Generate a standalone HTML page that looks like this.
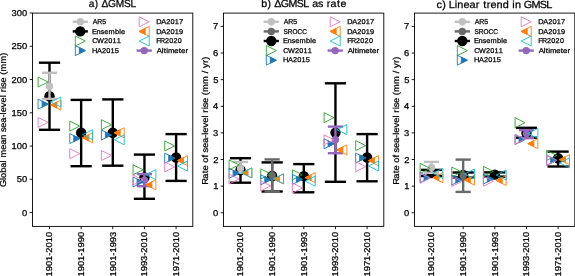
<!DOCTYPE html>
<html><head><meta charset="utf-8"><style>html,body{margin:0;padding:0;background:#fff;overflow:hidden;}svg{display:block;will-change:transform;}</style></head><body>
<svg width="575" height="276" viewBox="0 0 575 276" font-family='"Liberation Sans", sans-serif' text-rendering="geometricPrecision">
<rect x="0" y="0" width="575" height="276" fill="#ffffff"/>
<line x1="49.50" y1="62.70" x2="49.50" y2="129.80" stroke="#000000" stroke-width="2.4"/>
<line x1="38.90" y1="62.70" x2="60.10" y2="62.70" stroke="#000000" stroke-width="2.4"/>
<line x1="38.90" y1="129.80" x2="60.10" y2="129.80" stroke="#000000" stroke-width="2.4"/>
<circle cx="49.50" cy="96.30" r="5.2" fill="#000000"/>
<line x1="49.50" y1="72.80" x2="49.50" y2="98.90" stroke="#c0c0c0" stroke-width="2.4"/>
<line x1="41.90" y1="72.80" x2="57.10" y2="72.80" stroke="#c0c0c0" stroke-width="2.4"/>
<line x1="41.90" y1="98.90" x2="57.10" y2="98.90" stroke="#c0c0c0" stroke-width="2.4"/>
<circle cx="49.50" cy="86.20" r="3.7" fill="#c0c0c0"/>
<polygon points="48.10,82.00 38.10,77.00 38.10,87.00" fill="none" stroke="#2ca02c" stroke-width="0.90" stroke-linejoin="miter"/>
<polygon points="48.10,104.10 42.10,101.10 42.10,107.10" fill="#1f77b4" stroke="#1f77b4" stroke-width="0.90" stroke-linejoin="miter"/>
<polygon points="48.10,104.10 38.10,99.10 38.10,109.10" fill="none" stroke="#1f77b4" stroke-width="0.90" stroke-linejoin="miter"/>
<polygon points="48.10,122.40 38.10,117.40 38.10,127.40" fill="none" stroke="#e377c2" stroke-width="0.90" stroke-linejoin="miter"/>
<polygon points="50.90,105.00 56.90,102.00 56.90,108.00" fill="#ff7f0e" stroke="#ff7f0e" stroke-width="0.90" stroke-linejoin="miter"/>
<polygon points="50.90,105.00 60.90,100.00 60.90,110.00" fill="none" stroke="#ff7f0e" stroke-width="0.90" stroke-linejoin="miter"/>
<polygon points="50.90,102.00 60.90,97.00 60.90,107.00" fill="none" stroke="#17becf" stroke-width="0.90" stroke-linejoin="miter"/>
<line x1="81.15" y1="99.90" x2="81.15" y2="166.20" stroke="#000000" stroke-width="2.4"/>
<line x1="70.55" y1="99.90" x2="91.75" y2="99.90" stroke="#000000" stroke-width="2.4"/>
<line x1="70.55" y1="166.20" x2="91.75" y2="166.20" stroke="#000000" stroke-width="2.4"/>
<circle cx="81.15" cy="132.70" r="5.2" fill="#000000"/>
<polygon points="79.75,126.10 69.75,121.10 69.75,131.10" fill="none" stroke="#2ca02c" stroke-width="0.90" stroke-linejoin="miter"/>
<polygon points="79.75,138.60 73.75,135.60 73.75,141.60" fill="#1f77b4" stroke="#1f77b4" stroke-width="0.90" stroke-linejoin="miter"/>
<polygon points="79.75,138.60 69.75,133.60 69.75,143.60" fill="none" stroke="#1f77b4" stroke-width="0.90" stroke-linejoin="miter"/>
<polygon points="79.75,153.70 69.75,148.70 69.75,158.70" fill="none" stroke="#e377c2" stroke-width="0.90" stroke-linejoin="miter"/>
<polygon points="82.55,137.80 88.55,134.80 88.55,140.80" fill="#ff7f0e" stroke="#ff7f0e" stroke-width="0.90" stroke-linejoin="miter"/>
<polygon points="82.55,137.80 92.55,132.80 92.55,142.80" fill="none" stroke="#ff7f0e" stroke-width="0.90" stroke-linejoin="miter"/>
<polygon points="82.55,134.70 92.55,129.70 92.55,139.70" fill="none" stroke="#17becf" stroke-width="0.90" stroke-linejoin="miter"/>
<line x1="112.80" y1="99.40" x2="112.80" y2="165.70" stroke="#000000" stroke-width="2.4"/>
<line x1="102.20" y1="99.40" x2="123.40" y2="99.40" stroke="#000000" stroke-width="2.4"/>
<line x1="102.20" y1="165.70" x2="123.40" y2="165.70" stroke="#000000" stroke-width="2.4"/>
<circle cx="112.80" cy="132.70" r="5.2" fill="#000000"/>
<polygon points="111.40,124.70 101.40,119.70 101.40,129.70" fill="none" stroke="#2ca02c" stroke-width="0.90" stroke-linejoin="miter"/>
<polygon points="111.40,135.00 105.40,132.00 105.40,138.00" fill="#1f77b4" stroke="#1f77b4" stroke-width="0.90" stroke-linejoin="miter"/>
<polygon points="111.40,135.00 101.40,130.00 101.40,140.00" fill="none" stroke="#1f77b4" stroke-width="0.90" stroke-linejoin="miter"/>
<polygon points="111.40,155.50 101.40,150.50 101.40,160.50" fill="none" stroke="#e377c2" stroke-width="0.90" stroke-linejoin="miter"/>
<polygon points="114.20,132.80 120.20,129.80 120.20,135.80" fill="#ff7f0e" stroke="#ff7f0e" stroke-width="0.90" stroke-linejoin="miter"/>
<polygon points="114.20,132.80 124.20,127.80 124.20,137.80" fill="none" stroke="#ff7f0e" stroke-width="0.90" stroke-linejoin="miter"/>
<polygon points="114.20,139.80 124.20,134.80 124.20,144.80" fill="none" stroke="#17becf" stroke-width="0.90" stroke-linejoin="miter"/>
<line x1="144.45" y1="154.60" x2="144.45" y2="198.80" stroke="#000000" stroke-width="2.4"/>
<line x1="133.85" y1="154.60" x2="155.05" y2="154.60" stroke="#000000" stroke-width="2.4"/>
<line x1="133.85" y1="198.80" x2="155.05" y2="198.80" stroke="#000000" stroke-width="2.4"/>
<circle cx="144.45" cy="177.50" r="5.2" fill="#000000"/>
<line x1="144.45" y1="174.10" x2="144.45" y2="186.20" stroke="#9467bd" stroke-width="2.4"/>
<line x1="136.85" y1="174.10" x2="152.05" y2="174.10" stroke="#9467bd" stroke-width="2.4"/>
<line x1="136.85" y1="186.20" x2="152.05" y2="186.20" stroke="#9467bd" stroke-width="2.4"/>
<circle cx="144.45" cy="180.20" r="3.7" fill="#9467bd"/>
<polygon points="143.05,169.80 133.05,164.80 133.05,174.80" fill="none" stroke="#2ca02c" stroke-width="0.90" stroke-linejoin="miter"/>
<polygon points="143.05,182.00 137.05,179.00 137.05,185.00" fill="#1f77b4" stroke="#1f77b4" stroke-width="0.90" stroke-linejoin="miter"/>
<polygon points="143.05,182.00 133.05,177.00 133.05,187.00" fill="none" stroke="#1f77b4" stroke-width="0.90" stroke-linejoin="miter"/>
<polygon points="143.05,180.00 133.05,175.00 133.05,185.00" fill="none" stroke="#e377c2" stroke-width="0.90" stroke-linejoin="miter"/>
<polygon points="145.85,184.80 151.85,181.80 151.85,187.80" fill="#ff7f0e" stroke="#ff7f0e" stroke-width="0.90" stroke-linejoin="miter"/>
<polygon points="145.85,184.80 155.85,179.80 155.85,189.80" fill="none" stroke="#ff7f0e" stroke-width="0.90" stroke-linejoin="miter"/>
<polygon points="145.85,174.60 155.85,169.60 155.85,179.60" fill="none" stroke="#17becf" stroke-width="0.90" stroke-linejoin="miter"/>
<line x1="176.10" y1="134.10" x2="176.10" y2="180.90" stroke="#000000" stroke-width="2.4"/>
<line x1="165.50" y1="134.10" x2="186.70" y2="134.10" stroke="#000000" stroke-width="2.4"/>
<line x1="165.50" y1="180.90" x2="186.70" y2="180.90" stroke="#000000" stroke-width="2.4"/>
<circle cx="176.10" cy="157.50" r="5.2" fill="#000000"/>
<polygon points="174.70,145.90 164.70,140.90 164.70,150.90" fill="none" stroke="#2ca02c" stroke-width="0.90" stroke-linejoin="miter"/>
<polygon points="174.70,158.20 168.70,155.20 168.70,161.20" fill="#1f77b4" stroke="#1f77b4" stroke-width="0.90" stroke-linejoin="miter"/>
<polygon points="174.70,158.20 164.70,153.20 164.70,163.20" fill="none" stroke="#1f77b4" stroke-width="0.90" stroke-linejoin="miter"/>
<polygon points="174.70,166.90 164.70,161.90 164.70,171.90" fill="none" stroke="#e377c2" stroke-width="0.90" stroke-linejoin="miter"/>
<polygon points="177.50,160.60 183.50,157.60 183.50,163.60" fill="#ff7f0e" stroke="#ff7f0e" stroke-width="0.90" stroke-linejoin="miter"/>
<polygon points="177.50,160.60 187.50,155.60 187.50,165.60" fill="none" stroke="#ff7f0e" stroke-width="0.90" stroke-linejoin="miter"/>
<polygon points="177.50,166.00 187.50,161.00 187.50,171.00" fill="none" stroke="#17becf" stroke-width="0.90" stroke-linejoin="miter"/>
<rect x="32.50" y="13.10" width="160.30" height="213.30" fill="none" stroke="#000" stroke-width="0.9"/>
<line x1="49.50" y1="226.40" x2="49.50" y2="229.20" stroke="#000" stroke-width="0.9"/>
<text transform="translate(52.24 0) rotate(-90) scale(1.0907 1)" x="-253.55 -248.76 -243.98 -239.20 -234.49 -231.70 -226.92 -222.13 -217.35" y="0" font-size="8.57" fill="#000" stroke="#000" stroke-width="0.25">1901-2010</text>
<line x1="81.15" y1="226.40" x2="81.15" y2="229.20" stroke="#000" stroke-width="0.9"/>
<text transform="translate(83.89 0) rotate(-90) scale(1.0907 1)" x="-253.55 -248.76 -243.98 -239.20 -234.49 -231.70 -226.92 -222.13 -217.35" y="0" font-size="8.57" fill="#000" stroke="#000" stroke-width="0.25">1901-1990</text>
<line x1="112.80" y1="226.40" x2="112.80" y2="229.20" stroke="#000" stroke-width="0.9"/>
<text transform="translate(115.54 0) rotate(-90) scale(1.0907 1)" x="-253.44 -248.66 -243.88 -239.09 -234.39 -231.60 -226.81 -222.03 -217.25" y="0" font-size="8.57" fill="#000" stroke="#000" stroke-width="0.25">1901-1993</text>
<line x1="144.45" y1="226.40" x2="144.45" y2="229.20" stroke="#000" stroke-width="0.9"/>
<text transform="translate(147.19 0) rotate(-90) scale(1.0907 1)" x="-253.55 -248.76 -243.98 -239.20 -234.49 -231.70 -226.92 -222.13 -217.35" y="0" font-size="8.57" fill="#000" stroke="#000" stroke-width="0.25">1993-2010</text>
<line x1="176.10" y1="226.40" x2="176.10" y2="229.20" stroke="#000" stroke-width="0.9"/>
<text transform="translate(178.84 0) rotate(-90) scale(1.0907 1)" x="-253.55 -248.76 -243.98 -239.20 -234.49 -231.70 -226.92 -222.13 -217.35" y="0" font-size="8.57" fill="#000" stroke="#000" stroke-width="0.25">1971-2010</text>
<line x1="29.70" y1="212.60" x2="32.50" y2="212.60" stroke="#000" stroke-width="0.9"/>
<text transform="translate(0 215.60) scale(1.0947 1)" x="20.08" y="0" font-size="8.57" fill="#000" stroke="#000" stroke-width="0.25">0</text>
<line x1="29.70" y1="179.33" x2="32.50" y2="179.33" stroke="#000" stroke-width="0.9"/>
<text transform="translate(0 182.33) scale(1.0947 1)" x="15.31 20.08" y="0" font-size="8.57" fill="#000" stroke="#000" stroke-width="0.25">50</text>
<line x1="29.70" y1="146.07" x2="32.50" y2="146.07" stroke="#000" stroke-width="0.9"/>
<text transform="translate(0 149.07) scale(1.0947 1)" x="10.54 15.31 20.08" y="0" font-size="8.57" fill="#000" stroke="#000" stroke-width="0.25">100</text>
<line x1="29.70" y1="112.80" x2="32.50" y2="112.80" stroke="#000" stroke-width="0.9"/>
<text transform="translate(0 115.80) scale(1.0947 1)" x="10.54 15.31 20.08" y="0" font-size="8.57" fill="#000" stroke="#000" stroke-width="0.25">150</text>
<line x1="29.70" y1="79.54" x2="32.50" y2="79.54" stroke="#000" stroke-width="0.9"/>
<text transform="translate(0 82.54) scale(1.0947 1)" x="10.54 15.31 20.08" y="0" font-size="8.57" fill="#000" stroke="#000" stroke-width="0.25">200</text>
<line x1="29.70" y1="46.28" x2="32.50" y2="46.28" stroke="#000" stroke-width="0.9"/>
<text transform="translate(0 49.28) scale(1.0947 1)" x="10.54 15.31 20.08" y="0" font-size="8.57" fill="#000" stroke="#000" stroke-width="0.25">250</text>
<line x1="29.70" y1="13.01" x2="32.50" y2="13.01" stroke="#000" stroke-width="0.9"/>
<text transform="translate(0 16.01) scale(1.0947 1)" x="10.54 15.31 20.08" y="0" font-size="8.57" fill="#000" stroke="#000" stroke-width="0.25">300</text>
<text transform="translate(0 7.25) scale(0.9909 1)" x="89.47 95.60 99.41 102.38 109.07 116.92 125.22 131.71" y="0" font-size="10.29" fill="#000" stroke="#000" stroke-width="0.25">a) ΔGMSL</text>
<text transform="translate(5.90 0) rotate(-90) scale(1.0821 1)" x="-172.76 -166.39 -164.45 -159.73 -155.00 -150.19 -148.18 -145.66 -138.45 -133.80 -129.08 -124.28 -122.05 -117.99 -113.33 -108.69 -105.79 -103.84 -99.03 -94.69 -89.88 -87.86 -85.34 -82.25 -80.41 -76.35 -71.62 -69.18 -66.15 -58.77 -51.46" y="0" font-size="8.57" fill="#000" stroke="#000" stroke-width="0.25">Global mean sea-level rise (mm)</text>
<line x1="72.70" y1="21.80" x2="87.90" y2="21.80" stroke="#c0c0c0" stroke-width="2.4"/>
<circle cx="80.30" cy="21.80" r="3.7" fill="#c0c0c0"/>
<text transform="translate(0 24.00) scale(0.9913 1)" x="93.64 98.11 103.19" y="0" font-size="7.00" fill="#000" stroke="#000" stroke-width="0.25">AR5</text>
<line x1="72.70" y1="31.40" x2="87.90" y2="31.40" stroke="#000000" stroke-width="2.4"/>
<circle cx="80.30" cy="31.40" r="5.2" fill="#000000"/>
<text transform="translate(0 33.60) scale(1.0553 1)" x="87.08 91.49 95.35 98.76 102.84 108.91 112.98 114.64" y="0" font-size="7.00" fill="#000" stroke="#000" stroke-width="0.25">Ensemble</text>
<polygon points="85.30,41.00 75.30,36.00 75.30,46.00" fill="none" stroke="#2ca02c" stroke-width="0.90" stroke-linejoin="miter"/>
<text transform="translate(0 43.20) scale(1.0409 1)" x="88.61 93.26 99.85 103.94 108.04 112.14" y="0" font-size="7.00" fill="#000" stroke="#000" stroke-width="0.25">CW2011</text>
<polygon points="85.30,50.60 79.30,47.60 79.30,53.60" fill="#1f77b4" stroke="#1f77b4" stroke-width="0.90" stroke-linejoin="miter"/>
<polygon points="85.30,50.60 75.30,45.60 75.30,55.60" fill="none" stroke="#1f77b4" stroke-width="0.90" stroke-linejoin="miter"/>
<text transform="translate(0 52.80) scale(1.0542 1)" x="87.36 92.12 96.70 100.75 104.79 108.84" y="0" font-size="7.00" fill="#000" stroke="#000" stroke-width="0.25">HA2015</text>
<polygon points="149.20,21.80 139.20,16.80 139.20,26.80" fill="none" stroke="#e377c2" stroke-width="0.90" stroke-linejoin="miter"/>
<text transform="translate(0 24.00) scale(1.0590 1)" x="147.64 152.32 156.89 160.91 164.94 168.96" y="0" font-size="7.00" fill="#000" stroke="#000" stroke-width="0.25">DA2017</text>
<polygon points="139.20,31.40 145.20,28.40 145.20,34.40" fill="#ff7f0e" stroke="#ff7f0e" stroke-width="0.90" stroke-linejoin="miter"/>
<polygon points="139.20,31.40 149.20,26.40 149.20,36.40" fill="none" stroke="#ff7f0e" stroke-width="0.90" stroke-linejoin="miter"/>
<text transform="translate(0 33.60) scale(1.0590 1)" x="147.64 152.32 156.89 160.91 164.94 168.96" y="0" font-size="7.00" fill="#000" stroke="#000" stroke-width="0.25">DA2019</text>
<polygon points="139.20,41.00 149.20,36.00 149.20,46.00" fill="none" stroke="#17becf" stroke-width="0.90" stroke-linejoin="miter"/>
<text transform="translate(0 43.20) scale(1.0262 1)" x="152.19 155.95 160.88 165.03 169.19 173.34" y="0" font-size="7.00" fill="#000" stroke="#000" stroke-width="0.25">FR2020</text>
<line x1="136.60" y1="50.60" x2="151.80" y2="50.60" stroke="#9467bd" stroke-width="2.4"/>
<circle cx="144.20" cy="50.60" r="3.7" fill="#9467bd"/>
<text transform="translate(0 52.80) scale(1.1253 1)" x="139.26 143.68 145.48 147.67 149.25 154.95 158.93 160.95 164.79" y="0" font-size="7.00" fill="#000" stroke="#000" stroke-width="0.25">Altimeter</text>
<line x1="240.50" y1="158.20" x2="240.50" y2="182.70" stroke="#000000" stroke-width="2.4"/>
<line x1="229.90" y1="158.20" x2="251.10" y2="158.20" stroke="#000000" stroke-width="2.4"/>
<line x1="229.90" y1="182.70" x2="251.10" y2="182.70" stroke="#000000" stroke-width="2.4"/>
<circle cx="240.50" cy="170.00" r="5.2" fill="#000000"/>
<line x1="240.50" y1="162.00" x2="240.50" y2="172.80" stroke="#c0c0c0" stroke-width="2.4"/>
<line x1="232.90" y1="162.00" x2="248.10" y2="162.00" stroke="#c0c0c0" stroke-width="2.4"/>
<line x1="232.90" y1="172.80" x2="248.10" y2="172.80" stroke="#c0c0c0" stroke-width="2.4"/>
<circle cx="240.50" cy="168.50" r="3.7" fill="#c0c0c0"/>
<polygon points="239.10,164.90 229.10,159.90 229.10,169.90" fill="none" stroke="#2ca02c" stroke-width="0.90" stroke-linejoin="miter"/>
<polygon points="239.10,173.30 233.10,170.30 233.10,176.30" fill="#1f77b4" stroke="#1f77b4" stroke-width="0.90" stroke-linejoin="miter"/>
<polygon points="239.10,173.30 229.10,168.30 229.10,178.30" fill="none" stroke="#1f77b4" stroke-width="0.90" stroke-linejoin="miter"/>
<polygon points="239.10,179.00 229.10,174.00 229.10,184.00" fill="none" stroke="#e377c2" stroke-width="0.90" stroke-linejoin="miter"/>
<polygon points="241.90,172.90 247.90,169.90 247.90,175.90" fill="#ff7f0e" stroke="#ff7f0e" stroke-width="0.90" stroke-linejoin="miter"/>
<polygon points="241.90,172.90 251.90,167.90 251.90,177.90" fill="none" stroke="#ff7f0e" stroke-width="0.90" stroke-linejoin="miter"/>
<polygon points="241.90,172.90 251.90,167.90 251.90,177.90" fill="none" stroke="#17becf" stroke-width="0.90" stroke-linejoin="miter"/>
<line x1="272.15" y1="162.40" x2="272.15" y2="191.50" stroke="#000000" stroke-width="2.4"/>
<line x1="261.55" y1="162.40" x2="282.75" y2="162.40" stroke="#000000" stroke-width="2.4"/>
<line x1="261.55" y1="191.50" x2="282.75" y2="191.50" stroke="#000000" stroke-width="2.4"/>
<circle cx="272.15" cy="176.00" r="5.2" fill="#000000"/>
<line x1="272.15" y1="159.40" x2="272.15" y2="191.70" stroke="#696969" stroke-width="2.4"/>
<line x1="264.55" y1="159.40" x2="279.75" y2="159.40" stroke="#696969" stroke-width="2.4"/>
<line x1="264.55" y1="191.70" x2="279.75" y2="191.70" stroke="#696969" stroke-width="2.4"/>
<circle cx="272.15" cy="175.40" r="3.7" fill="#696969"/>
<polygon points="270.75,173.90 260.75,168.90 260.75,178.90" fill="none" stroke="#2ca02c" stroke-width="0.90" stroke-linejoin="miter"/>
<polygon points="270.75,179.80 264.75,176.80 264.75,182.80" fill="#1f77b4" stroke="#1f77b4" stroke-width="0.90" stroke-linejoin="miter"/>
<polygon points="270.75,179.80 260.75,174.80 260.75,184.80" fill="none" stroke="#1f77b4" stroke-width="0.90" stroke-linejoin="miter"/>
<polygon points="270.75,185.90 260.75,180.90 260.75,190.90" fill="none" stroke="#e377c2" stroke-width="0.90" stroke-linejoin="miter"/>
<polygon points="273.55,179.00 279.55,176.00 279.55,182.00" fill="#ff7f0e" stroke="#ff7f0e" stroke-width="0.90" stroke-linejoin="miter"/>
<polygon points="273.55,179.00 283.55,174.00 283.55,184.00" fill="none" stroke="#ff7f0e" stroke-width="0.90" stroke-linejoin="miter"/>
<polygon points="273.55,178.70 283.55,173.70 283.55,183.70" fill="none" stroke="#17becf" stroke-width="0.90" stroke-linejoin="miter"/>
<line x1="303.80" y1="164.10" x2="303.80" y2="192.30" stroke="#000000" stroke-width="2.4"/>
<line x1="293.20" y1="164.10" x2="314.40" y2="164.10" stroke="#000000" stroke-width="2.4"/>
<line x1="293.20" y1="192.30" x2="314.40" y2="192.30" stroke="#000000" stroke-width="2.4"/>
<circle cx="303.80" cy="176.10" r="5.2" fill="#000000"/>
<polygon points="302.40,174.80 292.40,169.80 292.40,179.80" fill="none" stroke="#2ca02c" stroke-width="0.90" stroke-linejoin="miter"/>
<polygon points="302.40,179.40 296.40,176.40 296.40,182.40" fill="#1f77b4" stroke="#1f77b4" stroke-width="0.90" stroke-linejoin="miter"/>
<polygon points="302.40,179.40 292.40,174.40 292.40,184.40" fill="none" stroke="#1f77b4" stroke-width="0.90" stroke-linejoin="miter"/>
<polygon points="302.40,188.00 292.40,183.00 292.40,193.00" fill="none" stroke="#e377c2" stroke-width="0.90" stroke-linejoin="miter"/>
<polygon points="305.20,177.70 311.20,174.70 311.20,180.70" fill="#ff7f0e" stroke="#ff7f0e" stroke-width="0.90" stroke-linejoin="miter"/>
<polygon points="305.20,177.70 315.20,172.70 315.20,182.70" fill="none" stroke="#ff7f0e" stroke-width="0.90" stroke-linejoin="miter"/>
<polygon points="305.20,181.20 315.20,176.20 315.20,186.20" fill="none" stroke="#17becf" stroke-width="0.90" stroke-linejoin="miter"/>
<line x1="335.45" y1="83.30" x2="335.45" y2="181.80" stroke="#000000" stroke-width="2.4"/>
<line x1="324.85" y1="83.30" x2="346.05" y2="83.30" stroke="#000000" stroke-width="2.4"/>
<line x1="324.85" y1="181.80" x2="346.05" y2="181.80" stroke="#000000" stroke-width="2.4"/>
<circle cx="335.45" cy="132.60" r="5.2" fill="#000000"/>
<line x1="335.45" y1="126.60" x2="335.45" y2="153.20" stroke="#9467bd" stroke-width="2.4"/>
<line x1="327.85" y1="126.60" x2="343.05" y2="126.60" stroke="#9467bd" stroke-width="2.4"/>
<line x1="327.85" y1="153.20" x2="343.05" y2="153.20" stroke="#9467bd" stroke-width="2.4"/>
<circle cx="335.45" cy="139.70" r="3.7" fill="#9467bd"/>
<polygon points="334.05,117.60 324.05,112.60 324.05,122.60" fill="none" stroke="#2ca02c" stroke-width="0.90" stroke-linejoin="miter"/>
<polygon points="334.05,143.80 328.05,140.80 328.05,146.80" fill="#1f77b4" stroke="#1f77b4" stroke-width="0.90" stroke-linejoin="miter"/>
<polygon points="334.05,143.80 324.05,138.80 324.05,148.80" fill="none" stroke="#1f77b4" stroke-width="0.90" stroke-linejoin="miter"/>
<polygon points="334.05,139.80 324.05,134.80 324.05,144.80" fill="none" stroke="#e377c2" stroke-width="0.90" stroke-linejoin="miter"/>
<polygon points="336.85,149.90 342.85,146.90 342.85,152.90" fill="#ff7f0e" stroke="#ff7f0e" stroke-width="0.90" stroke-linejoin="miter"/>
<polygon points="336.85,149.90 346.85,144.90 346.85,154.90" fill="none" stroke="#ff7f0e" stroke-width="0.90" stroke-linejoin="miter"/>
<polygon points="336.85,129.60 346.85,124.60 346.85,134.60" fill="none" stroke="#17becf" stroke-width="0.90" stroke-linejoin="miter"/>
<line x1="367.10" y1="134.10" x2="367.10" y2="181.30" stroke="#000000" stroke-width="2.4"/>
<line x1="356.50" y1="134.10" x2="377.70" y2="134.10" stroke="#000000" stroke-width="2.4"/>
<line x1="356.50" y1="181.30" x2="377.70" y2="181.30" stroke="#000000" stroke-width="2.4"/>
<circle cx="367.10" cy="157.50" r="5.2" fill="#000000"/>
<polygon points="365.70,145.60 355.70,140.60 355.70,150.60" fill="none" stroke="#2ca02c" stroke-width="0.90" stroke-linejoin="miter"/>
<polygon points="365.70,158.00 359.70,155.00 359.70,161.00" fill="#1f77b4" stroke="#1f77b4" stroke-width="0.90" stroke-linejoin="miter"/>
<polygon points="365.70,158.00 355.70,153.00 355.70,163.00" fill="none" stroke="#1f77b4" stroke-width="0.90" stroke-linejoin="miter"/>
<polygon points="365.70,166.70 355.70,161.70 355.70,171.70" fill="none" stroke="#e377c2" stroke-width="0.90" stroke-linejoin="miter"/>
<polygon points="368.50,160.60 374.50,157.60 374.50,163.60" fill="#ff7f0e" stroke="#ff7f0e" stroke-width="0.90" stroke-linejoin="miter"/>
<polygon points="368.50,160.60 378.50,155.60 378.50,165.60" fill="none" stroke="#ff7f0e" stroke-width="0.90" stroke-linejoin="miter"/>
<polygon points="368.50,166.00 378.50,161.00 378.50,171.00" fill="none" stroke="#17becf" stroke-width="0.90" stroke-linejoin="miter"/>
<rect x="223.50" y="13.10" width="160.30" height="213.30" fill="none" stroke="#000" stroke-width="0.9"/>
<line x1="240.50" y1="226.40" x2="240.50" y2="229.20" stroke="#000" stroke-width="0.9"/>
<text transform="translate(243.24 0) rotate(-90) scale(1.0907 1)" x="-253.55 -248.76 -243.98 -239.20 -234.49 -231.70 -226.92 -222.13 -217.35" y="0" font-size="8.57" fill="#000" stroke="#000" stroke-width="0.25">1901-2010</text>
<line x1="272.15" y1="226.40" x2="272.15" y2="229.20" stroke="#000" stroke-width="0.9"/>
<text transform="translate(274.89 0) rotate(-90) scale(1.0907 1)" x="-253.55 -248.76 -243.98 -239.20 -234.49 -231.70 -226.92 -222.13 -217.35" y="0" font-size="8.57" fill="#000" stroke="#000" stroke-width="0.25">1901-1990</text>
<line x1="303.80" y1="226.40" x2="303.80" y2="229.20" stroke="#000" stroke-width="0.9"/>
<text transform="translate(306.54 0) rotate(-90) scale(1.0907 1)" x="-253.44 -248.66 -243.88 -239.09 -234.39 -231.60 -226.81 -222.03 -217.25" y="0" font-size="8.57" fill="#000" stroke="#000" stroke-width="0.25">1901-1993</text>
<line x1="335.45" y1="226.40" x2="335.45" y2="229.20" stroke="#000" stroke-width="0.9"/>
<text transform="translate(338.19 0) rotate(-90) scale(1.0907 1)" x="-253.55 -248.76 -243.98 -239.20 -234.49 -231.70 -226.92 -222.13 -217.35" y="0" font-size="8.57" fill="#000" stroke="#000" stroke-width="0.25">1993-2010</text>
<line x1="367.10" y1="226.40" x2="367.10" y2="229.20" stroke="#000" stroke-width="0.9"/>
<text transform="translate(369.84 0) rotate(-90) scale(1.0907 1)" x="-253.55 -248.76 -243.98 -239.20 -234.49 -231.70 -226.92 -222.13 -217.35" y="0" font-size="8.57" fill="#000" stroke="#000" stroke-width="0.25">1971-2010</text>
<line x1="220.70" y1="212.75" x2="223.50" y2="212.75" stroke="#000" stroke-width="0.9"/>
<text transform="translate(0 215.75) scale(1.0947 1)" x="194.55" y="0" font-size="8.57" fill="#000" stroke="#000" stroke-width="0.25">0</text>
<line x1="220.70" y1="186.13" x2="223.50" y2="186.13" stroke="#000" stroke-width="0.9"/>
<text transform="translate(0 189.13) scale(1.0947 1)" x="194.74" y="0" font-size="8.57" fill="#000" stroke="#000" stroke-width="0.25">1</text>
<line x1="220.70" y1="159.51" x2="223.50" y2="159.51" stroke="#000" stroke-width="0.9"/>
<text transform="translate(0 162.51) scale(1.0947 1)" x="194.80" y="0" font-size="8.57" fill="#000" stroke="#000" stroke-width="0.25">2</text>
<line x1="220.70" y1="132.89" x2="223.50" y2="132.89" stroke="#000" stroke-width="0.9"/>
<text transform="translate(0 135.89) scale(1.0947 1)" x="194.65" y="0" font-size="8.57" fill="#000" stroke="#000" stroke-width="0.25">3</text>
<line x1="220.70" y1="106.27" x2="223.50" y2="106.27" stroke="#000" stroke-width="0.9"/>
<text transform="translate(0 109.27) scale(1.0947 1)" x="194.47" y="0" font-size="8.57" fill="#000" stroke="#000" stroke-width="0.25">4</text>
<line x1="220.70" y1="79.65" x2="223.50" y2="79.65" stroke="#000" stroke-width="0.9"/>
<text transform="translate(0 82.65) scale(1.0947 1)" x="194.71" y="0" font-size="8.57" fill="#000" stroke="#000" stroke-width="0.25">5</text>
<line x1="220.70" y1="53.03" x2="223.50" y2="53.03" stroke="#000" stroke-width="0.9"/>
<text transform="translate(0 56.03) scale(1.0947 1)" x="194.52" y="0" font-size="8.57" fill="#000" stroke="#000" stroke-width="0.25">6</text>
<line x1="220.70" y1="26.41" x2="223.50" y2="26.41" stroke="#000" stroke-width="0.9"/>
<text transform="translate(0 29.41) scale(1.0947 1)" x="194.69" y="0" font-size="8.57" fill="#000" stroke="#000" stroke-width="0.25">7</text>
<text transform="translate(0 7.25) scale(1.0350 1)" x="252.49 258.52 262.17 264.93 271.31 278.82 286.80 293.04 298.63 301.63 307.31 312.45 315.63 319.36 325.57 328.93" y="0" font-size="10.29" fill="#000" stroke="#000" stroke-width="0.25">b) ΔGMSL as rate</text>
<text transform="translate(207.90 0) rotate(-90) scale(1.0898 1)" x="-169.44 -163.98 -159.01 -156.41 -151.71 -149.40 -144.58 -142.06 -139.86 -135.82 -131.20 -126.58 -123.71 -121.78 -117.00 -112.70 -107.91 -105.90 -103.40 -100.33 -98.51 -94.48 -89.78 -87.35 -84.36 -77.03 -69.79 -67.33 -64.86 -62.39 -57.91 -54.89" y="0" font-size="8.57" fill="#000" stroke="#000" stroke-width="0.25">Rate of sea-level rise (mm / yr)</text>
<line x1="263.70" y1="21.80" x2="278.90" y2="21.80" stroke="#c0c0c0" stroke-width="2.4"/>
<circle cx="271.30" cy="21.80" r="3.7" fill="#c0c0c0"/>
<text transform="translate(0 24.00) scale(0.9913 1)" x="286.32 290.79 295.87" y="0" font-size="7.00" fill="#000" stroke="#000" stroke-width="0.25">AR5</text>
<line x1="263.70" y1="31.40" x2="278.90" y2="31.40" stroke="#696969" stroke-width="2.4"/>
<circle cx="271.30" cy="31.40" r="3.7" fill="#696969"/>
<text transform="translate(0 33.60) scale(0.9309 1)" x="304.44 309.03 314.17 319.71 324.73" y="0" font-size="7.00" fill="#000" stroke="#000" stroke-width="0.25">SROCC</text>
<line x1="263.70" y1="41.00" x2="278.90" y2="41.00" stroke="#000000" stroke-width="2.4"/>
<circle cx="271.30" cy="41.00" r="5.2" fill="#000000"/>
<text transform="translate(0 43.20) scale(1.0553 1)" x="268.07 272.48 276.34 279.75 283.83 289.90 293.97 295.64" y="0" font-size="7.00" fill="#000" stroke="#000" stroke-width="0.25">Ensemble</text>
<polygon points="276.30,50.60 266.30,45.60 266.30,55.60" fill="none" stroke="#2ca02c" stroke-width="0.90" stroke-linejoin="miter"/>
<text transform="translate(0 52.80) scale(1.0409 1)" x="272.11 276.76 283.35 287.44 291.54 295.63" y="0" font-size="7.00" fill="#000" stroke="#000" stroke-width="0.25">CW2011</text>
<polygon points="276.30,60.20 270.30,57.20 270.30,63.20" fill="#1f77b4" stroke="#1f77b4" stroke-width="0.90" stroke-linejoin="miter"/>
<polygon points="276.30,60.20 266.30,55.20 266.30,65.20" fill="none" stroke="#1f77b4" stroke-width="0.90" stroke-linejoin="miter"/>
<text transform="translate(0 62.40) scale(1.0542 1)" x="268.55 273.31 277.89 281.93 285.98 290.02" y="0" font-size="7.00" fill="#000" stroke="#000" stroke-width="0.25">HA2015</text>
<polygon points="340.20,21.80 330.20,16.80 330.20,26.80" fill="none" stroke="#e377c2" stroke-width="0.90" stroke-linejoin="miter"/>
<text transform="translate(0 24.00) scale(1.0590 1)" x="328.01 332.69 337.25 341.28 345.31 349.33" y="0" font-size="7.00" fill="#000" stroke="#000" stroke-width="0.25">DA2017</text>
<polygon points="330.20,31.40 336.20,28.40 336.20,34.40" fill="#ff7f0e" stroke="#ff7f0e" stroke-width="0.90" stroke-linejoin="miter"/>
<polygon points="330.20,31.40 340.20,26.40 340.20,36.40" fill="none" stroke="#ff7f0e" stroke-width="0.90" stroke-linejoin="miter"/>
<text transform="translate(0 33.60) scale(1.0590 1)" x="328.01 332.69 337.25 341.28 345.31 349.33" y="0" font-size="7.00" fill="#000" stroke="#000" stroke-width="0.25">DA2019</text>
<polygon points="330.20,41.00 340.20,36.00 340.20,46.00" fill="none" stroke="#17becf" stroke-width="0.90" stroke-linejoin="miter"/>
<text transform="translate(0 43.20) scale(1.0262 1)" x="338.33 342.08 347.01 351.16 355.32 359.47" y="0" font-size="7.00" fill="#000" stroke="#000" stroke-width="0.25">FR2020</text>
<line x1="327.60" y1="50.60" x2="342.80" y2="50.60" stroke="#9467bd" stroke-width="2.4"/>
<circle cx="335.20" cy="50.60" r="3.7" fill="#9467bd"/>
<text transform="translate(0 52.80) scale(1.1253 1)" x="308.98 313.40 315.20 317.39 318.98 324.68 328.65 330.68 334.51" y="0" font-size="7.00" fill="#000" stroke="#000" stroke-width="0.25">Altimeter</text>
<line x1="431.50" y1="169.90" x2="431.50" y2="176.00" stroke="#000000" stroke-width="2.4"/>
<line x1="420.90" y1="169.90" x2="442.10" y2="169.90" stroke="#000000" stroke-width="2.4"/>
<line x1="420.90" y1="176.00" x2="442.10" y2="176.00" stroke="#000000" stroke-width="2.4"/>
<circle cx="431.50" cy="173.00" r="5.2" fill="#000000"/>
<line x1="431.50" y1="161.90" x2="431.50" y2="172.80" stroke="#c0c0c0" stroke-width="2.4"/>
<line x1="423.90" y1="161.90" x2="439.10" y2="161.90" stroke="#c0c0c0" stroke-width="2.4"/>
<line x1="423.90" y1="172.80" x2="439.10" y2="172.80" stroke="#c0c0c0" stroke-width="2.4"/>
<circle cx="431.50" cy="167.50" r="3.7" fill="#c0c0c0"/>
<polygon points="430.10,168.40 420.10,163.40 420.10,173.40" fill="none" stroke="#2ca02c" stroke-width="0.90" stroke-linejoin="miter"/>
<polygon points="430.10,177.60 424.10,174.60 424.10,180.60" fill="#1f77b4" stroke="#1f77b4" stroke-width="0.90" stroke-linejoin="miter"/>
<polygon points="430.10,177.60 420.10,172.60 420.10,182.60" fill="none" stroke="#1f77b4" stroke-width="0.90" stroke-linejoin="miter"/>
<polygon points="430.10,178.20 420.10,173.20 420.10,183.20" fill="none" stroke="#e377c2" stroke-width="0.90" stroke-linejoin="miter"/>
<polygon points="432.90,177.70 438.90,174.70 438.90,180.70" fill="#ff7f0e" stroke="#ff7f0e" stroke-width="0.90" stroke-linejoin="miter"/>
<polygon points="432.90,177.70 442.90,172.70 442.90,182.70" fill="none" stroke="#ff7f0e" stroke-width="0.90" stroke-linejoin="miter"/>
<polygon points="432.90,173.40 442.90,168.40 442.90,178.40" fill="none" stroke="#17becf" stroke-width="0.90" stroke-linejoin="miter"/>
<line x1="463.15" y1="172.50" x2="463.15" y2="177.40" stroke="#000000" stroke-width="2.4"/>
<line x1="452.55" y1="172.50" x2="473.75" y2="172.50" stroke="#000000" stroke-width="2.4"/>
<line x1="452.55" y1="177.40" x2="473.75" y2="177.40" stroke="#000000" stroke-width="2.4"/>
<circle cx="463.15" cy="175.00" r="5.2" fill="#000000"/>
<line x1="463.15" y1="159.60" x2="463.15" y2="191.90" stroke="#696969" stroke-width="2.4"/>
<line x1="455.55" y1="159.60" x2="470.75" y2="159.60" stroke="#696969" stroke-width="2.4"/>
<line x1="455.55" y1="191.90" x2="470.75" y2="191.90" stroke="#696969" stroke-width="2.4"/>
<circle cx="463.15" cy="175.70" r="3.7" fill="#696969"/>
<polygon points="461.75,172.00 451.75,167.00 451.75,177.00" fill="none" stroke="#2ca02c" stroke-width="0.90" stroke-linejoin="miter"/>
<polygon points="461.75,180.00 455.75,177.00 455.75,183.00" fill="#1f77b4" stroke="#1f77b4" stroke-width="0.90" stroke-linejoin="miter"/>
<polygon points="461.75,180.00 451.75,175.00 451.75,185.00" fill="none" stroke="#1f77b4" stroke-width="0.90" stroke-linejoin="miter"/>
<polygon points="461.75,181.50 451.75,176.50 451.75,186.50" fill="none" stroke="#e377c2" stroke-width="0.90" stroke-linejoin="miter"/>
<polygon points="464.55,180.10 470.55,177.10 470.55,183.10" fill="#ff7f0e" stroke="#ff7f0e" stroke-width="0.90" stroke-linejoin="miter"/>
<polygon points="464.55,180.10 474.55,175.10 474.55,185.10" fill="none" stroke="#ff7f0e" stroke-width="0.90" stroke-linejoin="miter"/>
<polygon points="464.55,174.00 474.55,169.00 474.55,179.00" fill="none" stroke="#17becf" stroke-width="0.90" stroke-linejoin="miter"/>
<line x1="494.80" y1="172.40" x2="494.80" y2="176.60" stroke="#000000" stroke-width="2.4"/>
<line x1="484.20" y1="172.40" x2="505.40" y2="172.40" stroke="#000000" stroke-width="2.4"/>
<line x1="484.20" y1="176.60" x2="505.40" y2="176.60" stroke="#000000" stroke-width="2.4"/>
<circle cx="494.80" cy="174.60" r="5.2" fill="#000000"/>
<polygon points="493.40,171.40 483.40,166.40 483.40,176.40" fill="none" stroke="#2ca02c" stroke-width="0.90" stroke-linejoin="miter"/>
<polygon points="493.40,179.00 487.40,176.00 487.40,182.00" fill="#1f77b4" stroke="#1f77b4" stroke-width="0.90" stroke-linejoin="miter"/>
<polygon points="493.40,179.00 483.40,174.00 483.40,184.00" fill="none" stroke="#1f77b4" stroke-width="0.90" stroke-linejoin="miter"/>
<polygon points="493.40,181.20 483.40,176.20 483.40,186.20" fill="none" stroke="#e377c2" stroke-width="0.90" stroke-linejoin="miter"/>
<polygon points="496.20,180.50 502.20,177.50 502.20,183.50" fill="#ff7f0e" stroke="#ff7f0e" stroke-width="0.90" stroke-linejoin="miter"/>
<polygon points="496.20,180.50 506.20,175.50 506.20,185.50" fill="none" stroke="#ff7f0e" stroke-width="0.90" stroke-linejoin="miter"/>
<polygon points="496.20,175.00 506.20,170.00 506.20,180.00" fill="none" stroke="#17becf" stroke-width="0.90" stroke-linejoin="miter"/>
<line x1="526.45" y1="127.80" x2="526.45" y2="137.70" stroke="#000000" stroke-width="2.4"/>
<line x1="515.85" y1="127.80" x2="537.05" y2="127.80" stroke="#000000" stroke-width="2.4"/>
<line x1="515.85" y1="137.70" x2="537.05" y2="137.70" stroke="#000000" stroke-width="2.4"/>
<circle cx="526.45" cy="133.00" r="5.2" fill="#000000"/>
<line x1="526.45" y1="130.10" x2="526.45" y2="138.20" stroke="#9467bd" stroke-width="2.4"/>
<line x1="518.85" y1="130.10" x2="534.05" y2="130.10" stroke="#9467bd" stroke-width="2.4"/>
<line x1="518.85" y1="138.20" x2="534.05" y2="138.20" stroke="#9467bd" stroke-width="2.4"/>
<circle cx="526.45" cy="133.60" r="3.7" fill="#9467bd"/>
<polygon points="525.05,122.70 515.05,117.70 515.05,127.70" fill="none" stroke="#2ca02c" stroke-width="0.90" stroke-linejoin="miter"/>
<polygon points="525.05,139.50 519.05,136.50 519.05,142.50" fill="#1f77b4" stroke="#1f77b4" stroke-width="0.90" stroke-linejoin="miter"/>
<polygon points="525.05,139.50 515.05,134.50 515.05,144.50" fill="none" stroke="#1f77b4" stroke-width="0.90" stroke-linejoin="miter"/>
<polygon points="525.05,139.20 515.05,134.20 515.05,144.20" fill="none" stroke="#e377c2" stroke-width="0.90" stroke-linejoin="miter"/>
<polygon points="527.85,143.70 533.85,140.70 533.85,146.70" fill="#ff7f0e" stroke="#ff7f0e" stroke-width="0.90" stroke-linejoin="miter"/>
<polygon points="527.85,143.70 537.85,138.70 537.85,148.70" fill="none" stroke="#ff7f0e" stroke-width="0.90" stroke-linejoin="miter"/>
<polygon points="527.85,133.40 537.85,128.40 537.85,138.40" fill="none" stroke="#17becf" stroke-width="0.90" stroke-linejoin="miter"/>
<line x1="558.10" y1="151.60" x2="558.10" y2="166.50" stroke="#000000" stroke-width="2.4"/>
<line x1="547.50" y1="151.60" x2="568.70" y2="151.60" stroke="#000000" stroke-width="2.4"/>
<line x1="547.50" y1="166.50" x2="568.70" y2="166.50" stroke="#000000" stroke-width="2.4"/>
<circle cx="558.10" cy="158.20" r="5.2" fill="#000000"/>
<polygon points="556.70,155.40 546.70,150.40 546.70,160.40" fill="none" stroke="#2ca02c" stroke-width="0.90" stroke-linejoin="miter"/>
<polygon points="556.70,160.30 550.70,157.30 550.70,163.30" fill="#1f77b4" stroke="#1f77b4" stroke-width="0.90" stroke-linejoin="miter"/>
<polygon points="556.70,160.30 546.70,155.30 546.70,165.30" fill="none" stroke="#1f77b4" stroke-width="0.90" stroke-linejoin="miter"/>
<polygon points="556.70,160.30 546.70,155.30 546.70,165.30" fill="none" stroke="#e377c2" stroke-width="0.90" stroke-linejoin="miter"/>
<polygon points="559.50,159.70 565.50,156.70 565.50,162.70" fill="#ff7f0e" stroke="#ff7f0e" stroke-width="0.90" stroke-linejoin="miter"/>
<polygon points="559.50,159.70 569.50,154.70 569.50,164.70" fill="none" stroke="#ff7f0e" stroke-width="0.90" stroke-linejoin="miter"/>
<polygon points="559.50,162.80 569.50,157.80 569.50,167.80" fill="none" stroke="#17becf" stroke-width="0.90" stroke-linejoin="miter"/>
<rect x="414.50" y="13.10" width="160.30" height="213.30" fill="none" stroke="#000" stroke-width="0.9"/>
<line x1="431.50" y1="226.40" x2="431.50" y2="229.20" stroke="#000" stroke-width="0.9"/>
<text transform="translate(434.24 0) rotate(-90) scale(1.0907 1)" x="-253.55 -248.76 -243.98 -239.20 -234.49 -231.70 -226.92 -222.13 -217.35" y="0" font-size="8.57" fill="#000" stroke="#000" stroke-width="0.25">1901-2010</text>
<line x1="463.15" y1="226.40" x2="463.15" y2="229.20" stroke="#000" stroke-width="0.9"/>
<text transform="translate(465.89 0) rotate(-90) scale(1.0907 1)" x="-253.55 -248.76 -243.98 -239.20 -234.49 -231.70 -226.92 -222.13 -217.35" y="0" font-size="8.57" fill="#000" stroke="#000" stroke-width="0.25">1901-1990</text>
<line x1="494.80" y1="226.40" x2="494.80" y2="229.20" stroke="#000" stroke-width="0.9"/>
<text transform="translate(497.54 0) rotate(-90) scale(1.0907 1)" x="-253.44 -248.66 -243.88 -239.09 -234.39 -231.60 -226.81 -222.03 -217.25" y="0" font-size="8.57" fill="#000" stroke="#000" stroke-width="0.25">1901-1993</text>
<line x1="526.45" y1="226.40" x2="526.45" y2="229.20" stroke="#000" stroke-width="0.9"/>
<text transform="translate(529.19 0) rotate(-90) scale(1.0907 1)" x="-253.55 -248.76 -243.98 -239.20 -234.49 -231.70 -226.92 -222.13 -217.35" y="0" font-size="8.57" fill="#000" stroke="#000" stroke-width="0.25">1993-2010</text>
<line x1="558.10" y1="226.40" x2="558.10" y2="229.20" stroke="#000" stroke-width="0.9"/>
<text transform="translate(560.84 0) rotate(-90) scale(1.0907 1)" x="-253.55 -248.76 -243.98 -239.20 -234.49 -231.70 -226.92 -222.13 -217.35" y="0" font-size="8.57" fill="#000" stroke="#000" stroke-width="0.25">1971-2010</text>
<line x1="411.70" y1="212.75" x2="414.50" y2="212.75" stroke="#000" stroke-width="0.9"/>
<text transform="translate(0 215.75) scale(1.0947 1)" x="369.02" y="0" font-size="8.57" fill="#000" stroke="#000" stroke-width="0.25">0</text>
<line x1="411.70" y1="186.13" x2="414.50" y2="186.13" stroke="#000" stroke-width="0.9"/>
<text transform="translate(0 189.13) scale(1.0947 1)" x="369.22" y="0" font-size="8.57" fill="#000" stroke="#000" stroke-width="0.25">1</text>
<line x1="411.70" y1="159.51" x2="414.50" y2="159.51" stroke="#000" stroke-width="0.9"/>
<text transform="translate(0 162.51) scale(1.0947 1)" x="369.28" y="0" font-size="8.57" fill="#000" stroke="#000" stroke-width="0.25">2</text>
<line x1="411.70" y1="132.89" x2="414.50" y2="132.89" stroke="#000" stroke-width="0.9"/>
<text transform="translate(0 135.89) scale(1.0947 1)" x="369.13" y="0" font-size="8.57" fill="#000" stroke="#000" stroke-width="0.25">3</text>
<line x1="411.70" y1="106.27" x2="414.50" y2="106.27" stroke="#000" stroke-width="0.9"/>
<text transform="translate(0 109.27) scale(1.0947 1)" x="368.94" y="0" font-size="8.57" fill="#000" stroke="#000" stroke-width="0.25">4</text>
<line x1="411.70" y1="79.65" x2="414.50" y2="79.65" stroke="#000" stroke-width="0.9"/>
<text transform="translate(0 82.65) scale(1.0947 1)" x="369.18" y="0" font-size="8.57" fill="#000" stroke="#000" stroke-width="0.25">5</text>
<line x1="411.70" y1="53.03" x2="414.50" y2="53.03" stroke="#000" stroke-width="0.9"/>
<text transform="translate(0 56.03) scale(1.0947 1)" x="369.00" y="0" font-size="8.57" fill="#000" stroke="#000" stroke-width="0.25">6</text>
<line x1="411.70" y1="26.41" x2="414.50" y2="26.41" stroke="#000" stroke-width="0.9"/>
<text transform="translate(0 29.41) scale(1.0947 1)" x="369.17" y="0" font-size="8.57" fill="#000" stroke="#000" stroke-width="0.25">7</text>
<text transform="translate(0 7.80) scale(1.0590 1)" x="412.28 417.51 421.09 423.73 429.33 431.85 437.66 443.37 449.28 452.95 456.26 459.71 463.12 468.93 474.83 480.69 483.75 486.27 492.13 494.64 501.97 509.79 515.91" y="0" font-size="10.29" fill="#000" stroke="#000" stroke-width="0.25">c) Linear trend in GMSL</text>
<text transform="translate(398.90 0) rotate(-90) scale(1.0898 1)" x="-169.44 -163.98 -159.01 -156.41 -151.71 -149.40 -144.58 -142.06 -139.86 -135.82 -131.20 -126.58 -123.71 -121.78 -117.00 -112.70 -107.91 -105.90 -103.40 -100.33 -98.51 -94.48 -89.78 -87.35 -84.36 -77.03 -69.79 -67.33 -64.86 -62.39 -57.91 -54.89" y="0" font-size="8.57" fill="#000" stroke="#000" stroke-width="0.25">Rate of sea-level rise (mm / yr)</text>
<line x1="454.70" y1="21.80" x2="469.90" y2="21.80" stroke="#c0c0c0" stroke-width="2.4"/>
<circle cx="462.30" cy="21.80" r="3.7" fill="#c0c0c0"/>
<text transform="translate(0 24.00) scale(0.9913 1)" x="479.00 483.47 488.55" y="0" font-size="7.00" fill="#000" stroke="#000" stroke-width="0.25">AR5</text>
<line x1="454.70" y1="31.40" x2="469.90" y2="31.40" stroke="#696969" stroke-width="2.4"/>
<circle cx="462.30" cy="31.40" r="3.7" fill="#696969"/>
<text transform="translate(0 33.60) scale(0.9309 1)" x="509.61 514.20 519.34 524.88 529.90" y="0" font-size="7.00" fill="#000" stroke="#000" stroke-width="0.25">SROCC</text>
<line x1="454.70" y1="41.00" x2="469.90" y2="41.00" stroke="#000000" stroke-width="2.4"/>
<circle cx="462.30" cy="41.00" r="5.2" fill="#000000"/>
<text transform="translate(0 43.20) scale(1.0553 1)" x="449.07 453.47 457.33 460.74 464.82 470.90 474.96 476.63" y="0" font-size="7.00" fill="#000" stroke="#000" stroke-width="0.25">Ensemble</text>
<polygon points="467.30,50.60 457.30,45.60 457.30,55.60" fill="none" stroke="#2ca02c" stroke-width="0.90" stroke-linejoin="miter"/>
<text transform="translate(0 52.80) scale(1.0409 1)" x="455.60 460.26 466.84 470.94 475.04 479.13" y="0" font-size="7.00" fill="#000" stroke="#000" stroke-width="0.25">CW2011</text>
<polygon points="467.30,60.20 461.30,57.20 461.30,63.20" fill="#1f77b4" stroke="#1f77b4" stroke-width="0.90" stroke-linejoin="miter"/>
<polygon points="467.30,60.20 457.30,55.20 457.30,65.20" fill="none" stroke="#1f77b4" stroke-width="0.90" stroke-linejoin="miter"/>
<text transform="translate(0 62.40) scale(1.0542 1)" x="449.73 454.49 459.07 463.12 467.16 471.21" y="0" font-size="7.00" fill="#000" stroke="#000" stroke-width="0.25">HA2015</text>
<polygon points="531.20,21.80 521.20,16.80 521.20,26.80" fill="none" stroke="#e377c2" stroke-width="0.90" stroke-linejoin="miter"/>
<text transform="translate(0 24.00) scale(1.0590 1)" x="508.37 513.06 517.62 521.65 525.67 529.70" y="0" font-size="7.00" fill="#000" stroke="#000" stroke-width="0.25">DA2017</text>
<polygon points="521.20,31.40 527.20,28.40 527.20,34.40" fill="#ff7f0e" stroke="#ff7f0e" stroke-width="0.90" stroke-linejoin="miter"/>
<polygon points="521.20,31.40 531.20,26.40 531.20,36.40" fill="none" stroke="#ff7f0e" stroke-width="0.90" stroke-linejoin="miter"/>
<text transform="translate(0 33.60) scale(1.0590 1)" x="508.37 513.06 517.62 521.65 525.67 529.70" y="0" font-size="7.00" fill="#000" stroke="#000" stroke-width="0.25">DA2019</text>
<polygon points="521.20,41.00 531.20,36.00 531.20,46.00" fill="none" stroke="#17becf" stroke-width="0.90" stroke-linejoin="miter"/>
<text transform="translate(0 43.20) scale(1.0262 1)" x="524.46 528.22 533.14 537.30 541.45 545.60" y="0" font-size="7.00" fill="#000" stroke="#000" stroke-width="0.25">FR2020</text>
<line x1="518.60" y1="50.60" x2="533.80" y2="50.60" stroke="#9467bd" stroke-width="2.4"/>
<circle cx="526.20" cy="50.60" r="3.7" fill="#9467bd"/>
<text transform="translate(0 52.80) scale(1.1253 1)" x="478.71 483.13 484.93 487.12 488.70 494.40 498.38 500.40 504.24" y="0" font-size="7.00" fill="#000" stroke="#000" stroke-width="0.25">Altimeter</text>
</svg>
</body></html>
